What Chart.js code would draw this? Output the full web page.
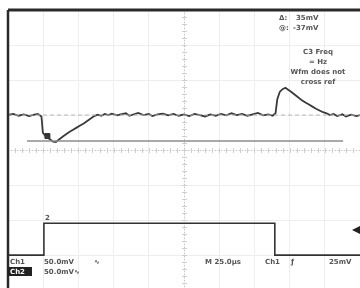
<!DOCTYPE html>
<html>
<head>
<meta charset="utf-8">
<script src="https://cdn.jsdelivr.net/npm/chart.js@4"></script>
<style>
  html, body { margin: 0; padding: 0; background: #fff; overflow: hidden; }
  #wrap { width: 360px; height: 288px; }
</style>
</head>
<body>
<div id="wrap"><canvas id="scope"></canvas></div>
<script>
// time axis in divisions (25us/div), volts in divisions (50mV/div)
const ch1X = [0, 0.15, 0.3, 0.45, 0.6, 0.75, 0.85, 0.95, 0.99, 1.05, 1.12, 1.2, 1.28, 1.36, 1.45, 1.55, 1.65, 1.75, 1.85, 1.95,
  2.05, 2.15, 2.25, 2.35, 2.45, 2.55, 2.65, 2.75, 2.85, 2.95, 3.1, 3.2, 3.35, 3.45, 3.6, 3.7, 3.85, 4.0, 4.1, 4.25,
  4.4, 4.55, 4.7, 4.85, 5.0, 5.15, 5.3, 5.45, 5.6, 5.75, 5.9, 6.05, 6.2, 6.35, 6.5, 6.65, 6.8, 6.95, 7.1, 7.25,
  7.4, 7.52, 7.6, 7.65, 7.72, 7.8, 7.88, 7.96, 8.05, 8.15, 8.25, 8.35, 8.45, 8.55, 8.65, 8.75, 8.85, 8.95, 9.05, 9.15,
  9.25, 9.35, 9.5, 9.6, 9.75, 9.9, 10];
const ch1Y = [1.0, 1.03, 0.98, 1.02, 0.97, 1.01, 1.03, 0.96, 0.5, 0.42, 0.36, 0.3, 0.24, 0.23, 0.3, 0.38, 0.45, 0.52, 0.58, 0.64,
  0.7, 0.76, 0.83, 0.9, 0.97, 1.01, 0.98, 1.03, 1.0, 1.04, 0.99, 1.02, 1.05, 0.98, 1.03, 1.06, 1.0, 1.03, 0.97, 1.02,
  1.04, 0.99, 1.03, 0.98, 1.02, 0.97, 1.03, 1.0, 0.96, 1.02, 0.98, 1.03, 0.99, 1.05, 1.0, 1.03, 0.98, 1.02, 1.06, 0.99,
  1.02, 0.98, 1.05, 1.45, 1.66, 1.74, 1.78, 1.72, 1.66, 1.58, 1.5, 1.42, 1.36, 1.3, 1.24, 1.18, 1.13, 1.08, 1.05, 1.0,
  1.03, 0.97, 1.02, 0.96, 1.01, 0.97, 1.0];

const ch2X = [0, 1.02, 1.02, 4.0, 7.58, 7.58, 10];
const ch2Y = [-3.0, -3.0, -2.09, -2.09, -2.09, -3.0, -3.0];

const refLevel = 1.0;       // dashed reference
const cursorLevel = 0.26;   // cursor line
const cursorSpan = [0.54, 9.52];
const ch1Marker = [{ x: 1.12, y: 0.4 }];

const toPts = (xs, ys) => xs.map((x, i) => ({ x: x, y: ys[i] }));

const scopeDeco = {
  id: "scopeDeco",
  beforeDatasetsDraw(chart) {
    const c = chart.ctx, a = chart.chartArea;
    const sx = chart.scales.x, sy = chart.scales.y;
    const cx = sx.getPixelForValue(5), cy = sy.getPixelForValue(0);
    c.save();
    c.strokeStyle = "#c4c4c4";
    c.lineWidth = 1;
    c.setLineDash([1, 2]);
    c.beginPath();
    c.moveTo(a.left, cy + 0.5); c.lineTo(a.right, cy + 0.5);
    c.moveTo(cx + 0.5, a.top); c.lineTo(cx + 0.5, a.bottom);
    c.stroke();
    c.setLineDash([]);
    c.strokeStyle = "#cfcfcf";
    c.beginPath();
    for (let v = 0; v <= 10; v += 0.2) {
      const px = Math.round(sx.getPixelForValue(v)) + 0.5;
      c.moveTo(px, cy - 2); c.lineTo(px, cy + 3);
    }
    for (let v = -4; v <= 4; v += 0.2) {
      const py = Math.round(sy.getPixelForValue(v)) + 0.5;
      c.moveTo(cx - 2, py); c.lineTo(cx + 3, py);
    }
    c.stroke();
    c.restore();
  },
  afterDraw(chart) {
    const c = chart.ctx, a = chart.chartArea;
    c.save();
    c.strokeStyle = "#2a2a2a";
    c.lineWidth = 3;
    c.beginPath();
    c.moveTo(a.left, a.top); c.lineTo(a.right, a.top);
    c.stroke();
    c.lineWidth = 2.5;
    c.beginPath();
    c.moveTo(a.left, a.top); c.lineTo(a.left, 288);
    c.stroke();

    c.fillStyle = "#555";
    c.font = "bold 7px 'DejaVu Sans'";
    c.textBaseline = "middle";
    c.textAlign = "left";
    c.fillText("\u0394:", 279, 18);
    c.fillText("35mV", 296, 18);
    c.fillText("@:", 279, 28);
    c.fillText("-37mV", 293, 28);
    c.textAlign = "center";
    c.fillText("C3 Freq", 318, 52);
    c.fillText("= Hz", 318, 62);
    c.fillText("Wfm does not", 318, 72);
    c.fillText("cross ref", 318, 82);

    c.textAlign = "left";
    c.fillText("Ch1", 10, 262);
    c.fillText("50.0mV", 44, 262);
    c.fillText("\u223F", 94, 262);
    c.fillStyle = "#222";
    c.fillRect(8, 267, 24, 9);
    c.fillStyle = "#fff";
    c.fillText("Ch2", 10, 272);
    c.fillStyle = "#555";
    c.fillText("50.0mV\u223F", 44, 272);
    c.fillText("M 25.0\u00B5s", 205, 262);
    c.fillText("Ch1", 265, 262);
    c.fillText("\u0192", 291, 262);
    c.fillText("25mV", 329, 262);
    c.fillText("2", 45, 218);

    c.beginPath();
    c.moveTo(352, 230); c.lineTo(360, 226); c.lineTo(360, 234); c.closePath();
    c.fillStyle = "#222";
    c.fill();
    c.restore();
  }
};

new Chart(document.getElementById("scope"), {
  type: "scatter",
  data: {
    datasets: [
      {
        data: [{ x: 0, y: refLevel }, { x: 10, y: refLevel }],
        showLine: true, borderColor: "#b8b8b8", borderWidth: 1, borderDash: [4, 3], pointRadius: 0
      },
      {
        data: [{ x: cursorSpan[0], y: cursorLevel }, { x: cursorSpan[1], y: cursorLevel }],
        showLine: true, borderColor: "#8c8c8c", borderWidth: 1.5, pointRadius: 0
      },
      {
        data: toPts(ch1X, ch1Y),
        showLine: true, borderColor: "#3a3a3a", borderWidth: 1.8, pointRadius: 0, tension: 0
      },
      {
        data: ch1Marker,
        pointStyle: "rect", pointRadius: 3.5, backgroundColor: "#333", borderColor: "#333"
      },
      {
        data: toPts(ch2X, ch2Y),
        showLine: true, borderColor: "#333", borderWidth: 1.6, pointRadius: 0, tension: 0
      }
    ]
  },
  options: {
    responsive: true,
    maintainAspectRatio: false,
    animation: false,
    layout: { autoPadding: false, padding: { top: 10, left: 8, right: 0, bottom: 0 } },
    plugins: { legend: { display: false }, tooltip: { enabled: false } },
    scales: {
      x: {
        type: "linear", min: 0, max: 10,
        ticks: { display: false, stepSize: 1 },
        grid: { color: "#eeeeee", drawTicks: false },
        border: { display: false }
      },
      y: {
        type: "linear", min: -3.94, max: 4,
        ticks: { display: false, stepSize: 1 },
        grid: { color: "#eeeeee", drawTicks: false },
        border: { display: false }
      }
    }
  },
  plugins: [scopeDeco]
});
</script>
</body>
</html>
